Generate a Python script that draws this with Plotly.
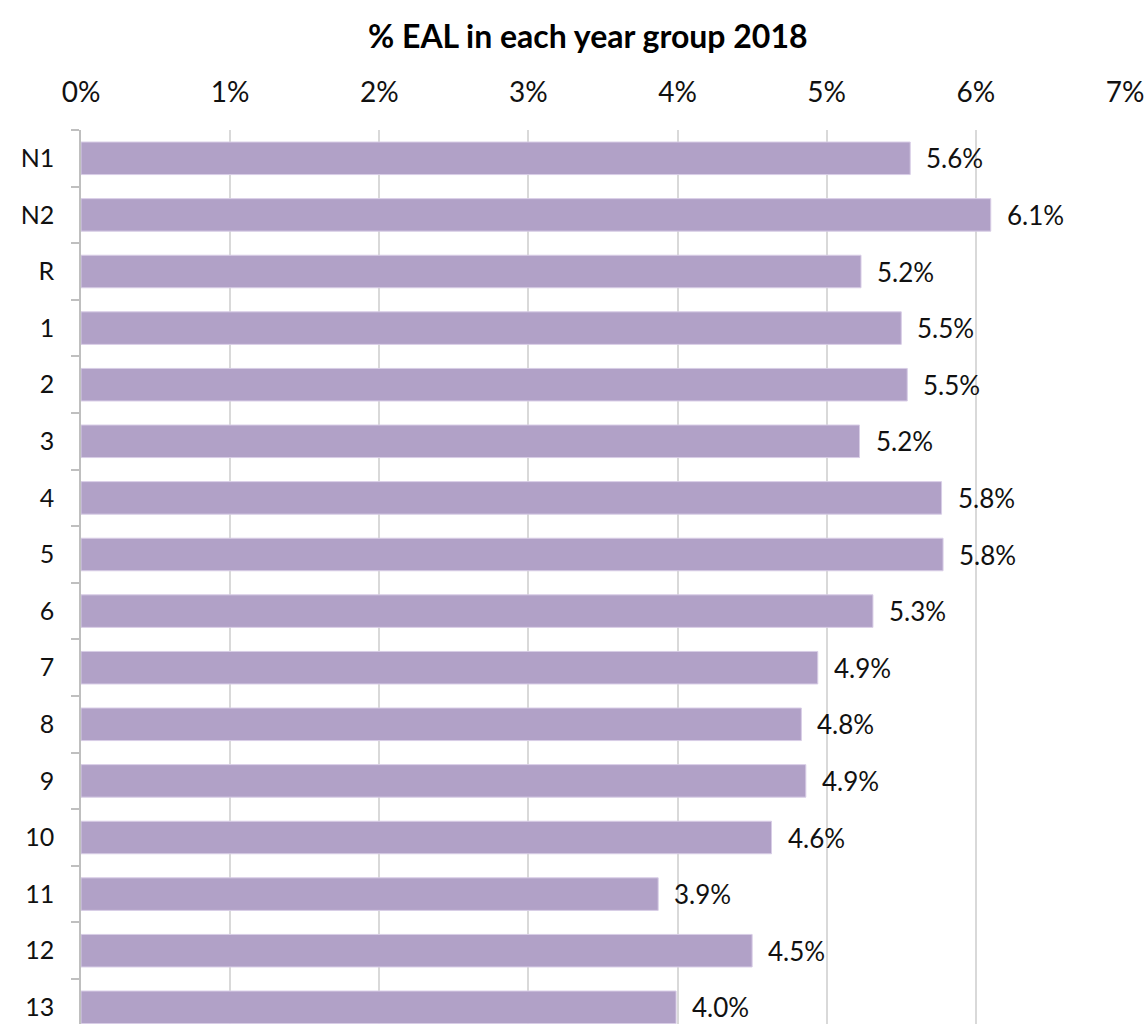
import plotly.graph_objects as go

categories = ["N1", "N2", "R", "1", "2", "3", "4", "5", "6", "7", "8", "9", "10", "11", "12", "13"]
eal_share = [0.0556, 0.0610, 0.0523, 0.0550, 0.0554, 0.0522, 0.0577, 0.0578, 0.0531,
             0.0494, 0.0483, 0.0486, 0.0463, 0.0387, 0.0450, 0.0399]
x_ticks = [0, 0.01, 0.02, 0.03, 0.04, 0.05, 0.06, 0.07]
x_tick_labels = ["0%", "1%", "2%", "3%", "4%", "5%", "6%", "7%"]
title_text = "% EAL in each year group 2018"

FONT = "Lato, 'Open Sans', sans-serif"

W, H = 1147, 1024
plot_left, plot_right, plot_top = 81, 1125, 130
plot_h = H - plot_top

fig = go.Figure()
fig.add_trace(go.Bar(
    x=eal_share,
    y=categories,
    orientation="h",
    marker=dict(color="#B1A1C7", line=dict(color="#D8CDE6", width=1)),
    hoverinfo="x+y",
))

annotations = []
for i, v in enumerate(eal_share):
    annotations.append(dict(
        x=v, y=i, xref="x", yref="y", text=f"{v:.1%}",
        showarrow=False, xanchor="left", yanchor="middle", xshift=14,
        font=dict(family=FONT, size=26, color="#111111"),
    ))
annotations.append(dict(
    x=(588 - plot_left) / (plot_right - plot_left),
    y=1 + (plot_top - 36) / plot_h,
    xref="paper", yref="paper", text="<b>" + title_text + "</b>",
    showarrow=False, xanchor="center", yanchor="middle",
    font=dict(family=FONT, size=32, color="#000000"),
))

fig.update_layout(
    width=W, height=H,
    margin=dict(l=plot_left, r=W - plot_right, t=plot_top, b=0, pad=0, autoexpand=False),
    paper_bgcolor="white", plot_bgcolor="white",
    showlegend=False,
    bargap=0.425,
    annotations=annotations,
    font=dict(family=FONT, size=26, color="#111111"),
    xaxis=dict(
        side="top", range=[0, 0.07], tickvals=x_ticks, ticktext=x_tick_labels,
        showgrid=True, gridcolor="#D9D9D9", gridwidth=1.5,
        zeroline=False, showline=False, ticks="",
        tickfont=dict(family=FONT, size=28, color="#111111"),
        ticklabelstandoff=21, automargin=False,
    ),
    yaxis=dict(
        type="category", range=[15.295, -0.5],
        showline=True, linecolor="#BFBFBF", linewidth=1.5,
        ticks="outside", ticklen=8, tickcolor="#BFBFBF", tickwidth=1.5,
        tickson="boundaries", showgrid=False,
        tickfont=dict(family=FONT, size=25, color="#111111"),
        ticklabelstandoff=20, automargin=False,
    ),
)

fig.write_html(
    "out.html",
    config={"displayModeBar": False},
    post_script="document.body.style.margin='0';document.body.style.overflow='hidden';",
)
